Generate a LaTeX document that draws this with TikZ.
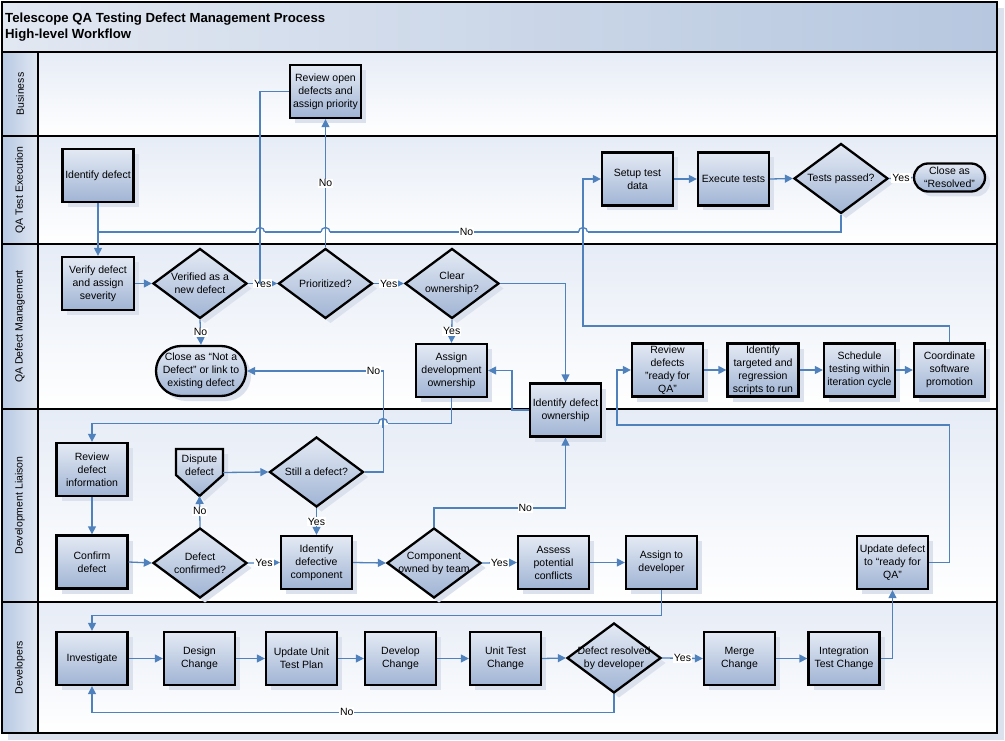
\documentclass[tikz,border=0pt]{standalone}
\usepackage{fontspec}
\setmainfont{Liberation Sans}
\usepackage{tikz}
\usetikzlibrary{arrows.meta}
\usetikzlibrary{calc,shadows,shapes.geometric}
\definecolor{flowblue}{RGB}{79,129,189}
\definecolor{boxlight}{RGB}{228,234,244}
\definecolor{boxdark}{RGB}{160,180,212}
\definecolor{shadowc}{RGB}{220,226,237}
\definecolor{lanetop}{RGB}{230,236,246}
\definecolor{headL}{RGB}{226,232,242}
\definecolor{headR}{RGB}{182,199,223}
\definecolor{colL}{RGB}{184,201,227}
\definecolor{colR}{RGB}{224,231,242}
\newcommand\hop[2]{%
\fill[white] (#1-4.5,#2-1.6) rectangle (#1+4.5,#2+1.6);
\draw[flowblue,line width=1.3pt] (#1,#2-5) -- (#1,#2+5);
\draw[flowblue,line width=1.3pt] (#1-4.5,#2) arc[start angle=180,end angle=0,radius=4.5pt];
}

\begin{document}
\begin{tikzpicture}[x=1pt,y=-1pt,
	every node/.style={font=\fontsize{10.5}{13}\selectfont,align=center,inner sep=1pt},
	task/.style={draw,line width=2.3pt,top color=boxlight,bottom color=boxdark,
		minimum width=71pt,minimum height=53pt,
		drop shadow={shadow xshift=5pt,shadow yshift=-5pt,fill=shadowc,opacity=1}},
	decision/.style={diamond,aspect=1.33,draw,line width=2.3pt,top color=boxlight,bottom color=boxdark,
		minimum width=94pt,minimum height=70pt,inner sep=-3pt,
		drop shadow={shadow xshift=5pt,shadow yshift=-5pt,fill=shadowc,opacity=1}},
	terminal/.style={draw,line width=2.3pt,top color=boxlight,bottom color=boxdark,rounded corners=#1,
		drop shadow={shadow xshift=5pt,shadow yshift=-5pt,fill=shadowc,opacity=1}},
	offpage/.style={minimum width=47pt,minimum height=47pt,inner sep=0pt,outer sep=0pt},
	flow/.style={draw=flowblue,line width=1.3pt,-{Triangle[length=8pt,width=8pt]}},
	link/.style={draw=flowblue,line width=1.3pt},
	lbl/.style={fill=white,inner sep=1pt},
	lane/.style={rotate=90}]
	%% frame and lanes
	\def\fw{2.5pt} % frame line width
	\useasboundingbox (0,0) rectangle (1005,741);
	\fill[shadowc] (8,8) rectangle (1004,740);
	\shade[left color=headL,right color=headR] (2,2) rectangle (997,52);
	\foreach \ya/\yb in {52/136,136/244,244/409,409/602,602/733}{
		\shade[top color=lanetop,middle color=white,bottom color=white] (38,\ya) rectangle (997,\yb);
		\shade[left color=colL,right color=colR] (2,\ya) rectangle (38,\yb);
	}
	\foreach \y in {52,136,244,409,602}
		\draw[line width=\fw] (2,\y) -- (997,\y);
	\draw[line width=\fw] (38,52) -- (38,733);
	\draw[line width=\fw] (2,2) rectangle (997,733);

	\node[anchor=north west,align=left,inner sep=0pt,font=\bfseries\fontsize{13.2}{16}\selectfont] (title) at (5,13)
		{Telescope QA Testing Defect Management Process\\High-level Workflow};

	\node[lane] (lbus) at (20,94) {Business};
	\node[lane] (lexec) at (20,190) {QA Test Execution};
	\node[lane] (lmgmt) at (20,326.5) {QA Defect Management};
	\node[lane] (lliai) at (20,505.5) {Development Liaison};
	\node[lane] (ldev) at (20,667.5) {Developers};

	%% Business
	\node[task] (reviewopen) at (325.5,91.5) {Review open\\defects and\\assign priority};

	%% QA test execution
	\node[task] (identify) at (98,175.5) {Identify defect};
	\node[task] (setup) at (637.5,179) {Setup test\\data};
	\node[task] (execute) at (733.5,179) {Execute tests};
	\node[decision] (tests) at (841,178.5) {Tests passed?};
	\node[terminal=14pt,minimum width=71pt,minimum height=28pt] (closeres) at (949.5,177.5) {Close as\\“Resolved”};

	%% QA defect management
	\node[task,minimum width=72pt] (verify) at (98,283.5) {Verify defect\\and assign\\severity};
	\node[decision] (verified) at (200,283.5) {Verified as a\\new defect};
	\node[decision] (prioritized) at (325.5,283.5) {Prioritized?};
	\node[decision] (clear) at (452,283.5) {Clear\\ownership?};
	\node[terminal=25pt,minimum width=90pt,minimum height=50pt,inner sep=0pt] (closenot) at (201,371) {Close as “Not a\\Defect” or link to\\existing defect};
	\node[task] (assigndev) at (451.5,370.5) {Assign\\development\\ownership};
	\node[task] (identown) at (565.5,410) {Identify defect\\ownership};
	\node[task,inner sep=0pt] (reviewqa) at (667.5,370) {Review\\defects\\"ready for\\QA"};
	\node[task,inner sep=0pt] (targeted) at (763,370) {Identify\\targeted and\\regression\\scripts to run};
	\node[task] (schedule) at (859.5,370) {Schedule\\testing within\\iteration cycle};
	\node[task] (coord) at (949.5,370) {Coordinate\\software\\promotion};

	%% development liaison
	\node[task] (reviewinfo) at (92,469.5) {Review\\defect\\information};
	\node[task] (confirm) at (92,562) {Confirm\\defect};
	\node[offpage] (dispute) at (199.5,472.5) {};
	\path[draw,line width=2.3pt,top color=boxlight,bottom color=boxdark,
		drop shadow={shadow xshift=5pt,shadow yshift=-5pt,fill=shadowc,opacity=1}]
		(dispute.north west) -- (dispute.north east) -- ([yshift=-2.5pt]dispute.east)
		-- (dispute.south) -- ([yshift=-2.5pt]dispute.west) -- cycle;
	\node (disputetext) at ([yshift=7.5pt]dispute.center) {Dispute\\defect};
	\node[decision] (still) at (316.5,472) {Still a defect?};
	\node[decision] (confirmed) at (200,563) {Defect\\confirmed?};
	\node[task] (identcomp) at (316.5,562.5) {Identify\\defective\\component};
	\node[decision] (compowned) at (434,563) {Component\\owned by team};
	\node[task] (assess) at (553.5,562.5) {Assess\\potential\\conflicts};
	\node[task] (assigndevr) at (661.5,562.5) {Assign to\\developer};
	\node[task] (update) at (892.5,562.5) {Update defect\\to “ready for\\QA”};

	%% developers
	\node[task] (investigate) at (92,658.5) {Investigate};
	\node[task] (design) at (199.5,658.5) {Design\\Change};
	\node[task] (plan) at (301.5,658.5) {Update Unit\\Test Plan};
	\node[task] (develop) at (400.5,658.5) {Develop\\Change};
	\node[task] (unittest) at (505.5,658.5) {Unit Test\\Change};
	\node[decision] (resolved) at (614,658) {Defect resolved\\by developer};
	\node[task] (merge) at (739.5,658.5) {Merge\\Change};
	\node[task] (integ) at (844,658.5) {Integration\\Test Change};

	%% connectors
	\coordinate (nojoin) at (98,232);
	\coordinate (yesjoin) at (260,283.5);
	\draw[flow] (identify.south) -- (verify.north);
	\draw[link] (tests.south) |- node[lbl,pos=0.752]{No} (nojoin);
	\draw[flow] (verify.east) -- (verified.west);
	\draw[flow] (verified.east) -- node[lbl]{Yes} (prioritized.west);
	\draw[link] (reviewopen.west) -| (yesjoin);
	\draw[flow] (prioritized.north) -- node[lbl]{No} (reviewopen.south);
	\draw[flow] (prioritized.east) -- node[lbl]{Yes} (clear.west);
	\draw[flow] (clear.south) -- node[lbl]{Yes} (assigndev.north);
	\draw[flow] (clear.east) -| (identown.north);
	\draw[flow] (verified.south) -- node[lbl]{No} (closenot.north);
	\draw[flow] (identown.west) -- ++(-17,0) |- (assigndev.east);
	\draw[flow] (assigndev.south) -- ++(0,25) -| (reviewinfo.north);
	\draw[flow] (still.east) -- ++(19,0) |- node[lbl,pos=0.537]{No} (closenot.east);
	\draw[flow] (coord.north) |- (583,326) |- (setup.west);
	\draw[flow] (setup.east) -- (execute.west);
	\draw[flow] (execute.east) -- (tests.west);
	\draw[flow] (tests.east) -- node[lbl]{Yes} (closeres.west);
	\draw[flow] (reviewqa.east) -- (targeted.west);
	\draw[flow] (targeted.east) -- (schedule.west);
	\draw[flow] (schedule.east) -- (coord.west);

	\draw[flow] (reviewinfo.south) -- (confirm.north);
	\draw[flow] (confirm.east) -- (confirmed.west);
	\draw[flow] (confirmed.north) -- node[lbl]{No} (dispute.south);
	\draw[flow] (confirmed.east) -- node[lbl]{Yes} (identcomp.west);
	\draw[flow] (dispute.east) -- (still.west);
	\draw[flow] (still.south) -- node[lbl]{Yes} (identcomp.north);
	\draw[flow] (identcomp.east) -- (compowned.west);
	\draw[flow] (compowned.north) -- ++(0,-19) -| node[lbl,pos=0.347]{No} (identown.south);
	\draw[flow] (compowned.east) -- node[lbl]{Yes} (assess.west);
	\draw[flow] (assess.east) -- (assigndevr.west);
	\draw[flow] (assigndevr.south) -- ++(0,25) -| (investigate.north);
	\draw[flow] (update.east) -- ++(20.5,0) |- (617,425) |- (reviewqa.west);

	\draw[flow] (investigate.east) -- (design.west);
	\draw[flow] (design.east) -- (plan.west);
	\draw[flow] (plan.east) -- (develop.west);
	\draw[flow] (develop.east) -- (unittest.west);
	\draw[flow] (unittest.east) -- (resolved.west);
	\draw[flow] (resolved.east) -- node[lbl]{Yes} (merge.west);
	\draw[flow] (merge.east) -- (integ.west);
	\draw[flow] (integ.east) -| (update.south);
	\draw[flow] (resolved.south) -- ++(0,18) -| node[lbl,pos=0.256]{No} (investigate.south);

	% line hops
	\hop{583}{232}
	\hop{325.5}{232}
	\hop{260}{232}
	\hop{383}{423}
\end{tikzpicture}
\end{document}
